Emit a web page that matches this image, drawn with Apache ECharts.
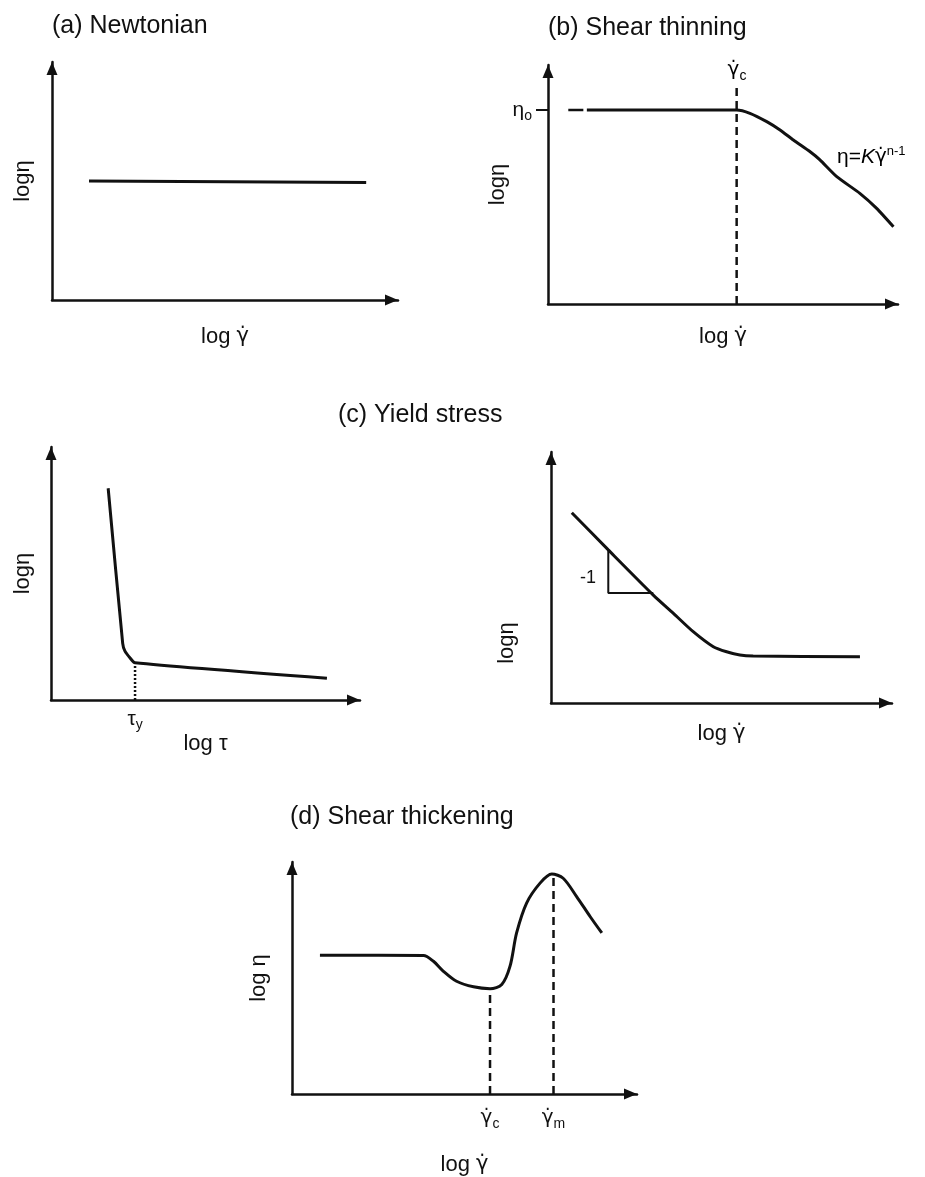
<!DOCTYPE html>
<html><head><meta charset="utf-8">
<script src="https://cdn.jsdelivr.net/npm/echarts@6/dist/echarts.min.js"></script>
<style>html,body{margin:0;padding:0;background:#fff}#c{width:925px;height:1177px}</style>
</head><body><div id="c"></div>
<script>
const GD = '\u03B3\u0307'; // gamma dot

// ---- data (axis units 0..100 for each panel) ----
// (a) Newtonian
const aX = [10.7, 90.8];
const aY = [50.0, 49.4];
// (b) Shear thinning
const bX = [11.1, 53.9, 57.7, 62.5, 66.3, 70.1, 74.9, 77.7, 82.5, 89.1, 93.9, 98.7];
const bY = [81.2, 81.2, 79.8, 76.3, 72.8, 68.6, 63.7, 60.3, 53.3, 46.3, 40.0, 32.3];
const bDashX = [5.8, 10.1];
const bDashY = [81.2, 81.2];
const bCritX = [53.9, 53.9];
const bCritY = [0, 90.8];
const bEta0 = 81.2;
// (c) Yield stress, left
const cLX = [18.5, 23.2, 23.9, 25.6, 27.2, 89.3];
const cLY = [83.7, 22.4, 19.4, 16.6, 14.7, 8.6];
const cLYieldX = [27.2, 27.2];
const cLYieldY = [0, 14.7];
// (c) Yield stress, right
const cRX = [6.1, 16.8, 30.0, 35.9, 41.7, 47.6, 51.5, 55.4, 59.3, 90.6];
const cRY = [75.8, 61.0, 43.0, 35.7, 28.4, 22.4, 20.4, 19.1, 18.7, 18.4];
const cRTriX = [16.8, 16.8, 30.0];
const cRTriY = [61.0, 43.8, 43.8];
// (d) Shear thickening
const dX = [8.1, 38.1, 41.0, 43.9, 47.7, 52.6, 57.4, 60.8, 63.2, 65.1, 68.0, 71.9, 75.3, 78.6, 82.5, 86.4, 89.8];
const dY = [59.8, 59.7, 57.2, 52.9, 48.6, 46.2, 45.4, 47.2, 55.1, 69.4, 82.3, 90.9, 94.8, 93.0, 85.1, 76.5, 69.4];
const dCritX = [57.4, 57.4];
const dCritY = [0, 45.4];
const dMaxX = [75.8, 75.8];
const dMaxY = [0, 94.8];
// tick labels
const cLTicks = [27.2];
const cLTickLabels = ['{g|τ}{s|y}'];
const dTicks = [57.4, 75.8];
const dTickLabels = ['{d|' + GD + '}{s|c}', '{d|' + GD + '}{s|m}'];

// ---- styling ----
const FONT = '"Liberation Sans", Arial, Helvetica, sans-serif';
const GFONT = '"DejaVu Sans", "Noto Sans", sans-serif';
const INK = '#111';
const rich = {
  g: {fontSize: 21, fontFamily: FONT, color: INK},
  d: {fontSize: 20, fontFamily: GFONT, color: INK},
  s: {fontSize: 14, fontFamily: FONT, color: INK, padding: [12, 0, 0, 0]},
  t: {fontSize: 21, fontFamily: FONT, color: INK},
  k: {fontSize: 21, fontFamily: FONT, color: INK, fontStyle: 'italic'},
  sup: {fontSize: 13, fontFamily: FONT, color: INK, padding: [0, 0, 12, 0]}
};
const zip = (xs, ys) => xs.map((x, i) => [x, ys[i]]);

const grids = [
  {left: 52, top: 62, width: 346, height: 238},
  {left: 548, top: 65, width: 350, height: 239},
  {left: 51, top: 447, width: 309, height: 253},
  {left: 551, top: 452, width: 341, height: 251},
  {left: 292, top: 862, width: 345, height: 233}
];
const axisLine = {show: true, symbol: ['none', 'triangle'], symbolSize: [11, 13], symbolOffset: [0, -6.5],
  lineStyle: {color: INK, width: 2.5}};
const nameStyle = {fontSize: 22, fontFamily: FONT, color: INK, rich: {
  t: {fontSize: 22, fontFamily: FONT, color: INK},
  d: {fontSize: 21, fontFamily: GFONT, color: INK}
}};

function xAxis(i, name, gap, label) {
  const ax = {type: 'value', gridIndex: i, min: 0, max: 100, name: name, nameLocation: 'middle', nameGap: gap,
    nameTextStyle: nameStyle, axisLine: axisLine, splitLine: {show: false}, axisTick: {show: false},
    axisLabel: {show: false}};
  if (label) ax.axisLabel = label;
  return ax;
}
function yAxis(i, name, gap, tick, label) {
  const ax = {type: 'value', gridIndex: i, min: 0, max: 100, name: name, nameLocation: 'middle', nameGap: gap,
    nameTextStyle: nameStyle, axisLine: axisLine, splitLine: {show: false}, axisTick: {show: false},
    axisLabel: {show: false}};
  if (tick) ax.axisTick = tick;
  if (label) ax.axisLabel = label;
  return ax;
}
function line(i, data, opts) {
  return Object.assign({type: 'line', xAxisIndex: i, yAxisIndex: i, data: data, symbol: 'none',
    lineStyle: {color: INK, width: 3}, silent: true, animation: false, z: 3}, opts || {});
}
const GNAME = '{t|log }{d|' + GD + '}';

const option = {
  backgroundColor: '#fff',
  animation: false,
  title: [
    {text: '(a) Newtonian', left: 52, top: 14},
    {text: '(b) Shear thinning', left: 548, top: 16},
    {text: '(c) Yield stress', left: 338, top: 403},
    {text: '(d) Shear thickening', left: 290, top: 805}
  ].map(t => Object.assign(t, {padding: 0, textStyle: {fontSize: 25, fontWeight: 'normal', fontFamily: FONT, color: INK}})),
  grid: grids,
  xAxis: [
    xAxis(0, GNAME, 26),
    xAxis(1, GNAME, 22),
    xAxis(2, 'log τ', 20, {show: true, customValues: cLTicks, margin: 6,
      formatter: v => cLTickLabels[cLTicks.indexOf(v)], rich: rich}),
    xAxis(3, GNAME, 20),
    xAxis(4, GNAME, 60, {show: true, customValues: dTicks, margin: 11,
      formatter: v => dTickLabels[dTicks.indexOf(v)], rich: rich})
  ],
  yAxis: [
    yAxis(0, 'logη', 18),
    yAxis(1, 'logη', 25,
      {show: true, customValues: [bEta0], length: 12, inside: false, lineStyle: {color: INK, width: 2}},
      {show: true, customValues: [bEta0], margin: 16, formatter: () => '{g|η}{s|o}', rich: rich}),
    yAxis(2, 'logη', 17),
    yAxis(3, '', 20),
    yAxis(4, 'log η', 22)
  ],
  series: [
    line(0, zip(aX, aY)),
    line(1, zip(bX, bY), {smooth: 0.2}),
    line(1, zip(bDashX, bDashY), {lineStyle: {color: INK, width: 2.5}}),
    line(1, zip(bCritX, bCritY), {lineStyle: {color: INK, width: 2.5, type: [8, 5]}}),
    line(2, zip(cLX, cLY), {smooth: 0.2}),
    line(2, zip(cLYieldX, cLYieldY), {lineStyle: {color: INK, width: 2.5, type: [2, 2]}}),
    line(3, zip(cRX, cRY), {smooth: 0.25}),
    line(3, zip(cRTriX, cRTriY), {lineStyle: {color: INK, width: 2}}),
    line(4, zip(dX, dY), {smooth: 0.3}),
    line(4, zip(dCritX, dCritY), {lineStyle: {color: INK, width: 2.5, type: [8, 5]}}),
    line(4, zip(dMaxX, dMaxY), {lineStyle: {color: INK, width: 2.5, type: [8, 5]}})
  ],
  graphic: [
    {type: 'text', x: 737, y: 70, style: {text: '{d|' + GD + '}{s|c}', rich: rich, align: 'center', verticalAlign: 'middle'}},
    {type: 'text', x: 837, y: 157, style: {text: '{t|η=}{k|K}{d|' + GD + '}{sup|n-1}', rich: rich, align: 'left', verticalAlign: 'middle'}},
    {type: 'text', x: 588, y: 578, style: {text: '-1', font: '18px ' + FONT, fill: INK, align: 'center', verticalAlign: 'middle'}},
    {type: 'text', x: 507, y: 643, rotation: Math.PI / 2, style: {text: 'logη', font: '22px ' + FONT, fill: INK, align: 'center', verticalAlign: 'middle'}}
  ]
};
const chart = echarts.init(document.getElementById('c'), null, {renderer: 'canvas'});
chart.setOption(option);
</script>
</body></html>
